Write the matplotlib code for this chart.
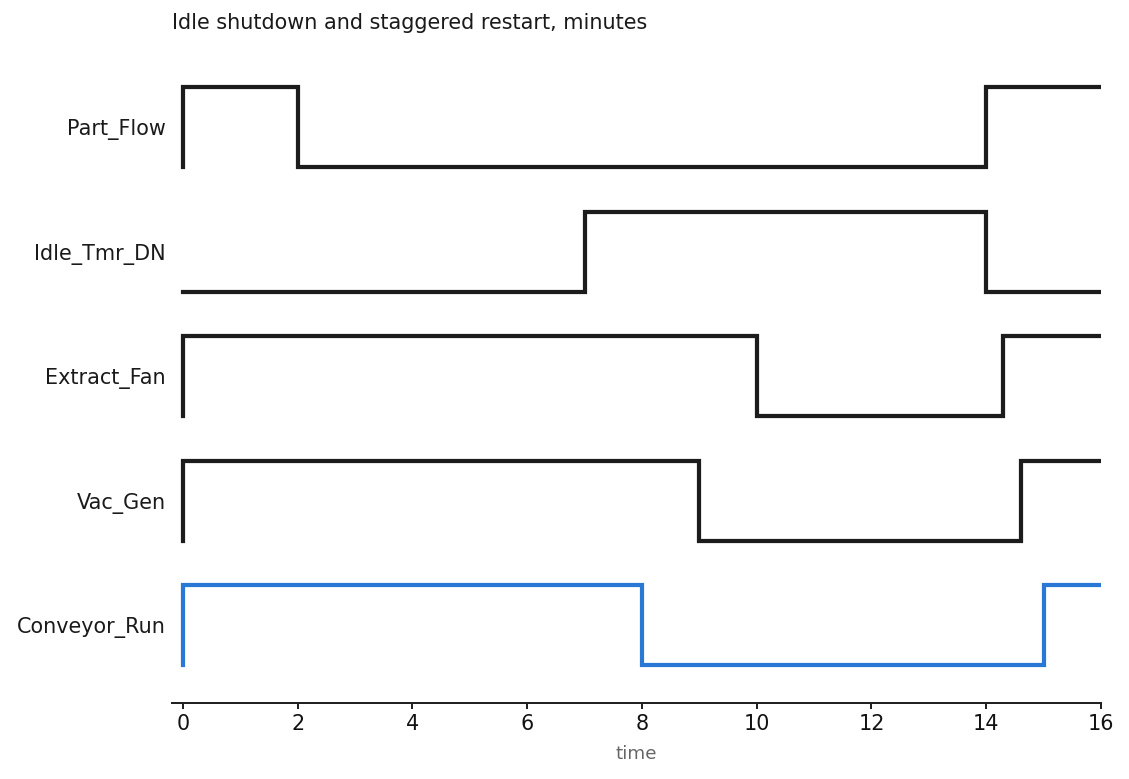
import matplotlib
matplotlib.use('Agg')
import matplotlib.pyplot as plt

# Signals, bottom to top
signals = ['Conveyor_Run', 'Vac_Gen', 'Extract_Fan', 'Idle_Tmr_DN', 'Part_Flow']
# transition times and the state held after each one (first entry = t0)
edge_times = [
    [0, 8, 15],        # Conveyor_Run
    [0, 9, 14.6],      # Vac_Gen
    [0, 10, 14.3],     # Extract_Fan
    [0, 7, 14],        # Idle_Tmr_DN
    [0, 2, 14],        # Part_Flow
]
edge_states = [
    [1, 0, 1],
    [1, 0, 1],
    [1, 0, 1],
    [0, 1, 0],
    [1, 0, 1],
]
highlight = 'Conveyor_Run'
t_end = 16
xticks = [0, 2, 4, 6, 8, 10, 12, 14, 16]

W, H = 1129, 779
dpi = 144
fig = plt.figure(figsize=(W / dpi, H / dpi), dpi=dpi)
ax = fig.add_axes([172 / W, (H - 703) / H, (1101 - 172) / W, (703 - 60) / H])

amp = 0.64
for i, name in enumerate(signals):
    x = [0] + edge_times[i] + [t_end]
    y = [0] + edge_states[i] + [edge_states[i][-1]]
    y = [i + amp * v for v in y]
    color = '#2a78d6' if name == highlight else '#1c1c1c'
    ax.plot(x, y, drawstyle='steps-post', color=color, lw=2.1,
            solid_joinstyle='miter', solid_capstyle='projecting')

ax.set_xlim(-0.19, t_end)
ax.set_ylim(-0.305, 4.86)
ax.set_yticks([i + amp / 2 for i in range(len(signals))])
ax.set_yticklabels(signals, fontsize=10.4, color='#1a1a1a')
ax.tick_params(axis='y', length=0, pad=3)
ax.set_xticks(xticks)
ax.set_xticklabels([str(t) for t in xticks], fontsize=10.4, color='#111111')
ax.tick_params(axis='x', length=3, width=1.0, color='#222222', pad=2.5)

for s in ['top', 'right', 'left']:
    ax.spines[s].set_visible(False)
ax.spines['bottom'].set_color('#222222')
ax.spines['bottom'].set_linewidth(1.0)

ax.set_xlabel('time', fontsize=9.2, color='#666666', labelpad=5.5)
fig.text(172 / W, 1 - 23 / H, 'Idle shutdown and staggered restart, minutes',
         fontsize=10.4, color='#1a1a1a', ha='left', va='center')

fig.savefig('out.png', dpi=dpi)
